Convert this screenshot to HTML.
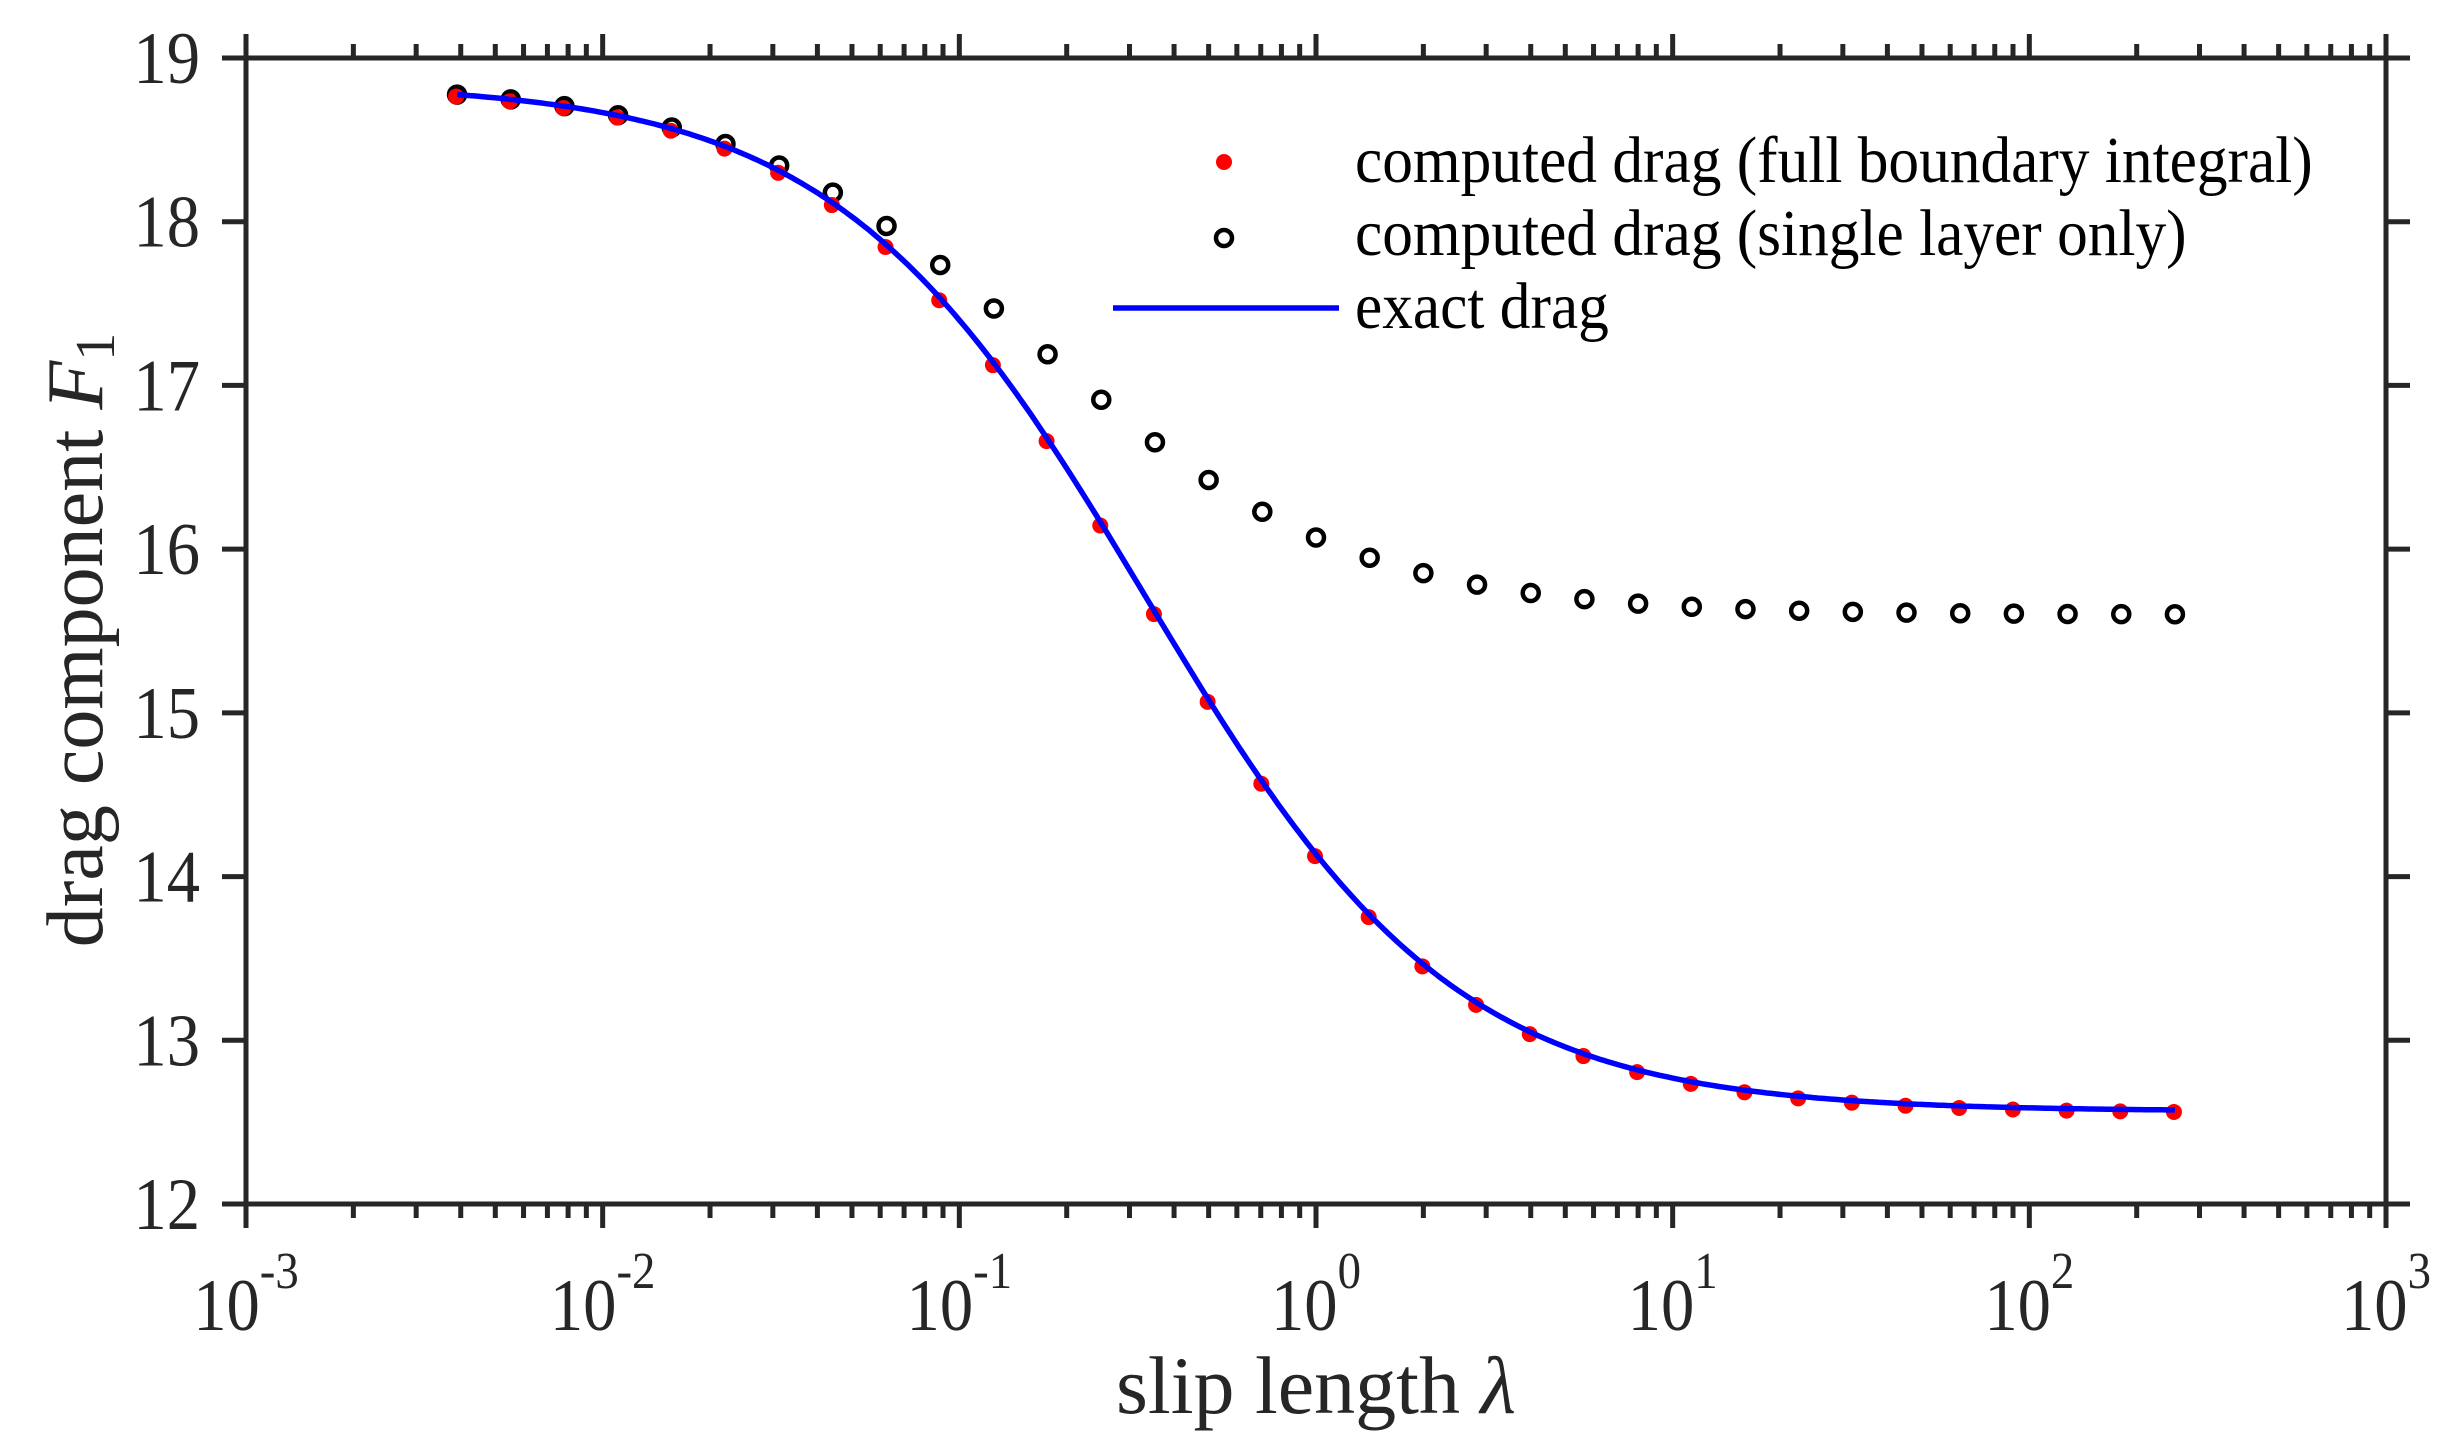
<!DOCTYPE html>
<html><head><meta charset="utf-8"><style>html,body{margin:0;padding:0;background:#fff}svg{display:block}</style></head>
<body>
<svg id="s" width="2464" height="1455" xmlns="http://www.w3.org/2000/svg" font-family="Liberation Serif, serif" fill="#262626">
<rect width="2464" height="1455" fill="#fff"/>
<g id="data"></g>
<g id="axes" stroke="#262626" stroke-width="5" fill="none"></g>
<g id="labels"></g>
<!-- legend -->
<circle cx="1224" cy="162" r="8" fill="#ff0000"/>
<circle cx="1224" cy="238" r="8" fill="none" stroke="#000" stroke-width="4.5"/>
<line x1="1113" y1="308" x2="1339" y2="308" stroke="#0000ff" stroke-width="5.5"/>
<g font-size="66" fill="#000">
<text transform="translate(1355,182) scale(0.93,1)">computed drag (full boundary integral)</text>
<text transform="translate(1355,255) scale(0.93,1)">computed drag (single layer only)</text>
<text transform="translate(1355,328) scale(0.93,1)">exact drag</text>
</g>
<text x="1316" y="1413" font-size="82" text-anchor="middle">slip length <tspan font-style="italic">λ</tspan></text>
<text transform="translate(102,640) rotate(-90)" font-size="80" text-anchor="middle">drag component <tspan font-style="italic">F</tspan><tspan font-size="56" dy="12">1</tspan></text>
</svg>
<script>
var L=246,R=2386,T=58,B=1204;
function X(l){return L+(Math.log10(l)+3)*(R-L)/6;}
function Y(v){return B-(v-12)*(B-T)/7;}
var ns="http://www.w3.org/2000/svg";
function el(p,n,a,t){var e=document.createElementNS(ns,n);for(var k in a)e.setAttribute(k,a[k]);if(t)e.textContent=t;document.getElementById(p).appendChild(e);return e;}
var P=6*Math.PI;
function ex(l){return P*(1+2*l)/(1+3*l);}
function sl(l){var b=5.9,a=0.8276*b;return P*(1+a*l)/(1+b*l);}
var d="";
for(var i=0;i<=400;i++){var lg=-8*Math.log10(2)+i/400*16*Math.log10(2);var l=Math.pow(10,lg);d+=(i?"L":"M")+X(l).toFixed(1)+" "+Y(ex(l)).toFixed(1);}
for(var n=-16;n<=16;n++){var l=Math.pow(2,n/2);
 el("data","circle",{cx:X(l),cy:Y(sl(l)),r:8,fill:"none",stroke:"#000","stroke-width":4.5});}
for(var n=-16;n<=16;n++){var l=Math.pow(2,n/2);
 el("data","circle",{cx:X(l)-1,cy:Y(ex(l))+2,r:8,fill:"#ff0000"});}
el("data","path",{d:d,fill:"none",stroke:"#0000ff","stroke-width":5.5});
el("axes","rect",{x:L,y:T,width:R-L,height:B-T});
for(var v=12;v<=19;v++){var y=Y(v);
 el("axes","line",{x1:L-24,y1:y,x2:L,y2:y});el("axes","line",{x1:R,y1:y,x2:R+24,y2:y});
 el("labels","text",{transform:"translate(200,"+(y+25)+") scale(0.9,1)","font-size":74,"text-anchor":"end"},String(v));}
for(var e=-3;e<=3;e++){var x=X(Math.pow(10,e));
 el("axes","line",{x1:x,y1:B,x2:x,y2:B+24});el("axes","line",{x1:x,y1:T-24,x2:x,y2:T});
 var t=el("labels","text",{transform:"translate("+x+",1330) scale(0.9,1)","font-size":74,"text-anchor":"middle"});
 var a=document.createElementNS(ns,"tspan");a.textContent="10";t.appendChild(a);
 var b=document.createElementNS(ns,"tspan");b.setAttribute("font-size","52");b.setAttribute("dy","-42");b.textContent=(e<0?"-":"")+Math.abs(e);t.appendChild(b);
 if(e<3)for(var k=2;k<=9;k++){var xm=X(k*Math.pow(10,e));
  el("axes","line",{x1:xm,y1:B,x2:xm,y2:B+14});el("axes","line",{x1:xm,y1:T-14,x2:xm,y2:T});}
}
</script>
</body></html>
